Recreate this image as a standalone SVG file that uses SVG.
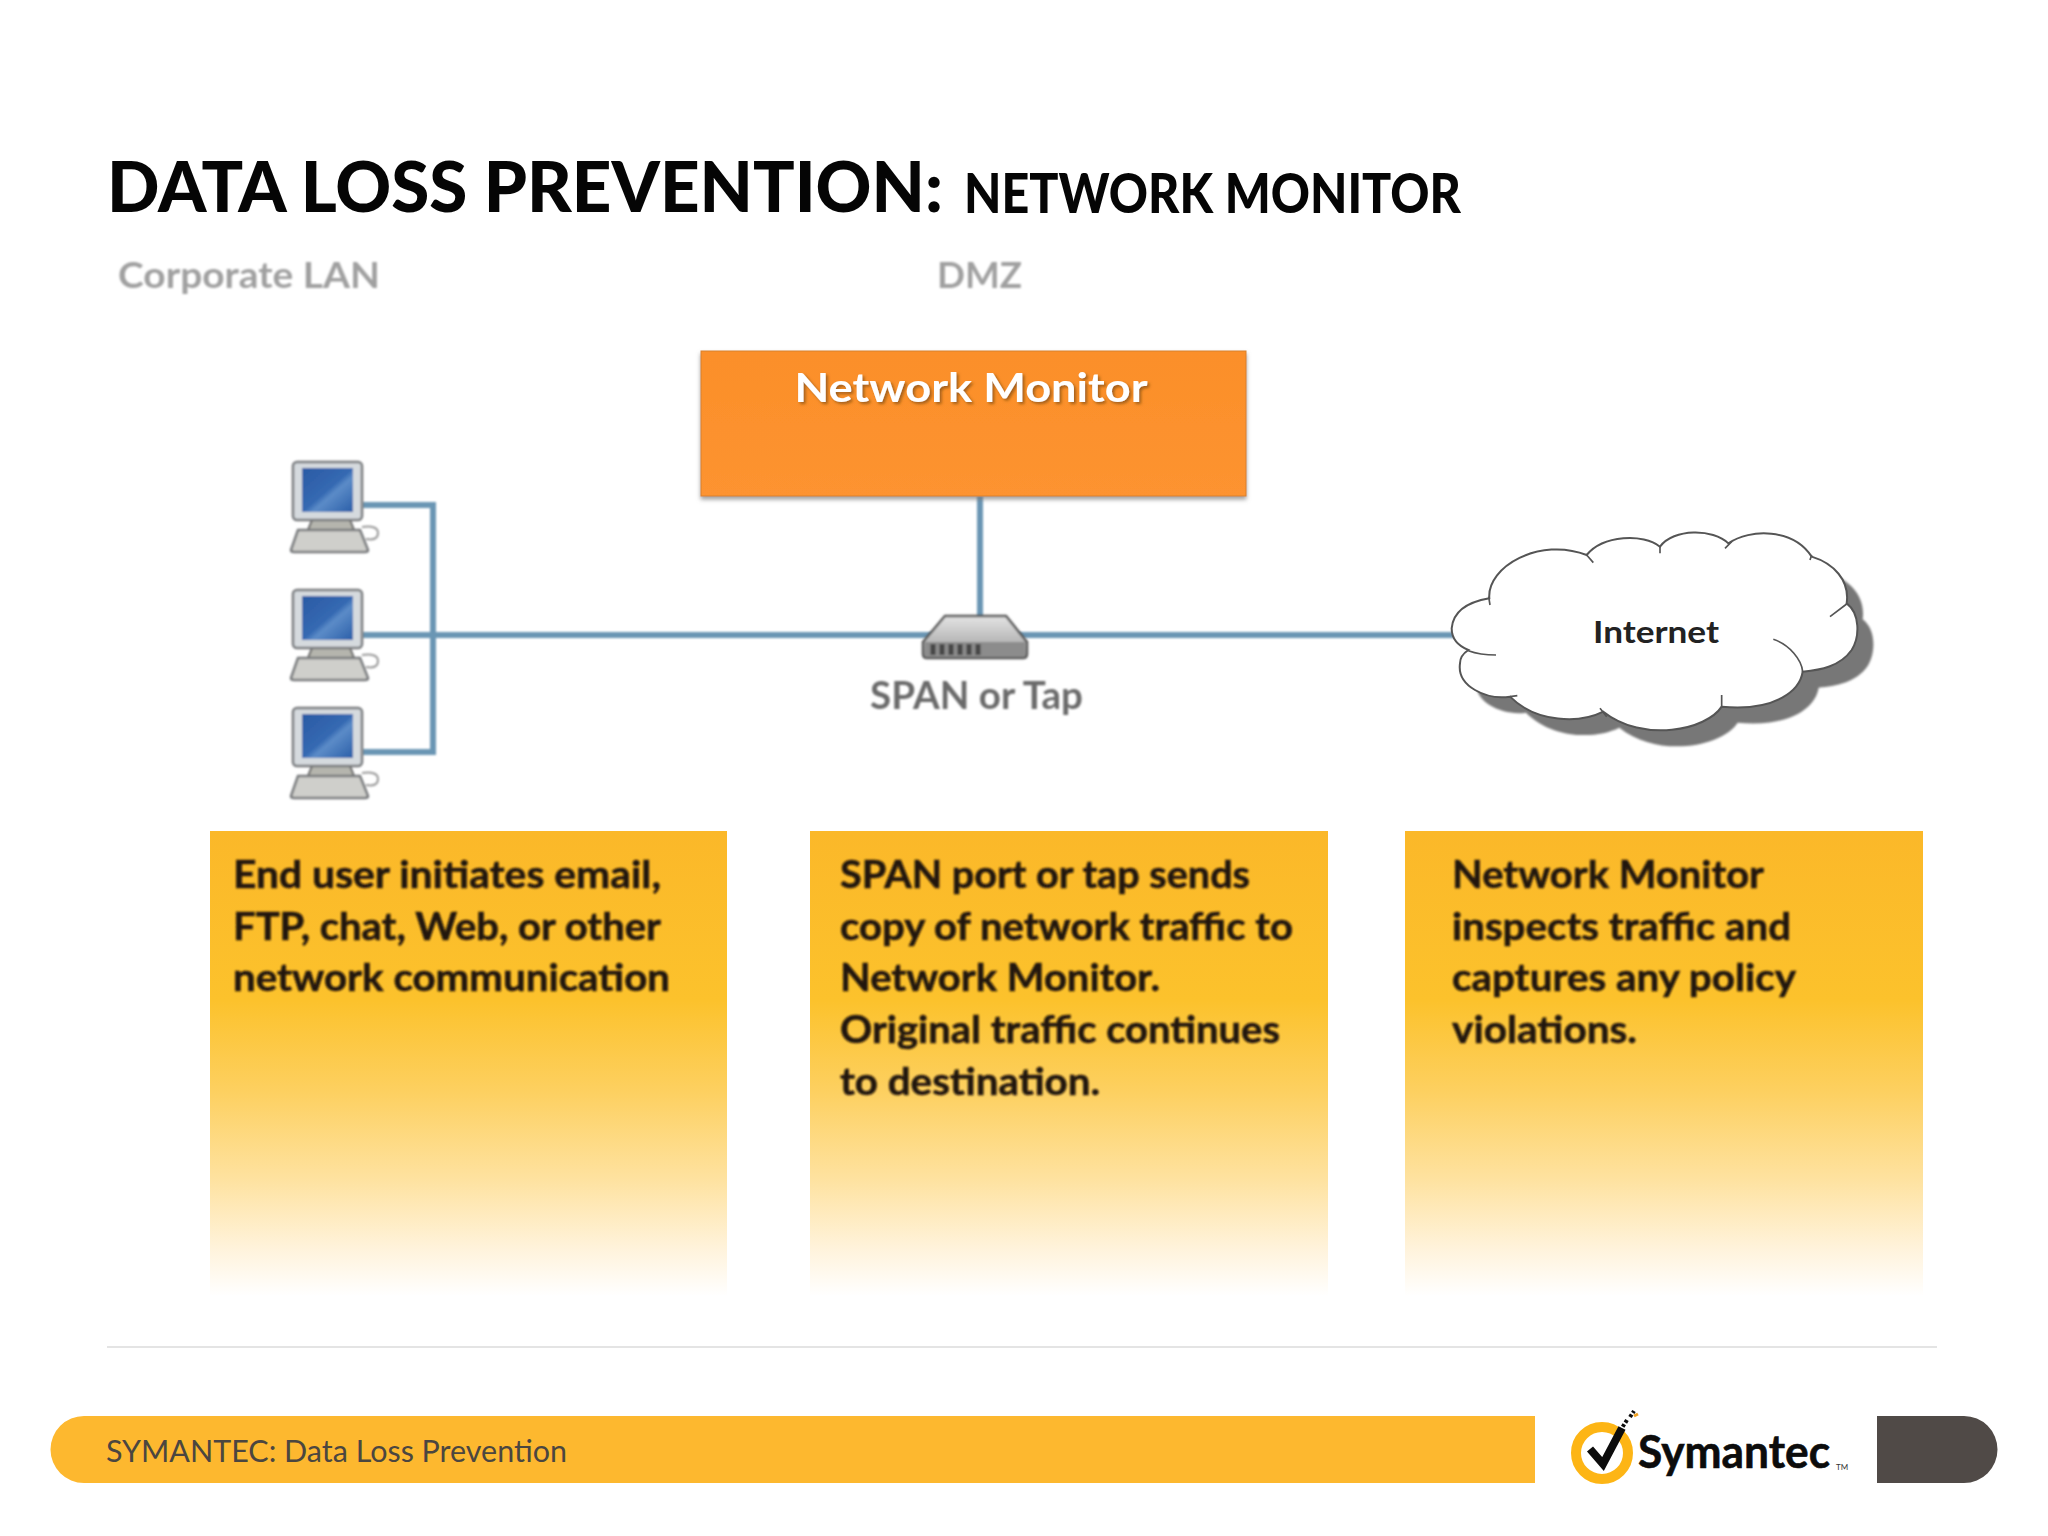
<svg xmlns="http://www.w3.org/2000/svg" width="2048" height="1536" viewBox="0 0 2048 1536">
<style>
text{font-family:"Lato","Open Sans","Liberation Sans",sans-serif}
.title{font-weight:900;fill:#050505}
.zone{font-weight:700;font-size:37px;fill:#a0a0a0}
.body{font-weight:700;font-size:38px;fill:#20140a;stroke:#20140a;stroke-width:.5}
.link{fill:none;stroke:#6b96b4;stroke-width:6}
.inner{fill:none;stroke:#555;stroke-width:5}
</style>
<defs>
<linearGradient id="note" x1="0" y1="0" x2="0" y2="1"><stop offset="0" stop-color="#fbb829"/><stop offset="0.365" stop-color="#fcc22c"/><stop offset="0.56" stop-color="#fdd060"/><stop offset="0.75" stop-color="#fee2a0"/><stop offset="0.9" stop-color="#fff3dc"/><stop offset="1" stop-color="#ffffff"/></linearGradient>
<linearGradient id="orange" x1="0" y1="0" x2="0" y2="1"><stop offset="0" stop-color="#fb8f2a"/><stop offset="1" stop-color="#fd9330"/></linearGradient>
<linearGradient id="screen" x1="0" y1="0" x2="1" y2="1"><stop offset="0" stop-color="#2a5aa4"/><stop offset="0.5" stop-color="#3569b2"/><stop offset="0.6" stop-color="#5c8cc8"/><stop offset="1" stop-color="#2a5ea8"/></linearGradient>
<linearGradient id="hub" x1="0" y1="0" x2="0" y2="1"><stop offset="0" stop-color="#e4e4e4"/><stop offset="1" stop-color="#9b9b9b"/></linearGradient>
<filter id="soft" x="-10%" y="-10%" width="120%" height="120%"><feGaussianBlur stdDeviation="0.8"/></filter>
<filter id="blur" x="-10%" y="-10%" width="120%" height="120%"><feGaussianBlur stdDeviation="3"/></filter>
<filter id="boxshadow" x="-5%" y="-5%" width="110%" height="115%"><feDropShadow dx="0" dy="3" stdDeviation="2" flood-color="#777" flood-opacity="0.7"/></filter>
<filter id="textshadow" x="-5%" y="-20%" width="110%" height="150%"><feDropShadow dx="2" dy="2" stdDeviation="1.5" flood-color="#7a4a10" flood-opacity="0.7"/></filter>
<g id="pc">
<path d="M312 520h38l4 10h-46z" fill="#b5b5ad" stroke="#666" stroke-width="2"/>
<rect x="293" y="462" width="69" height="58" rx="4" fill="#d5dade" stroke="#77797c" stroke-width="2.5"/>
<rect x="302" y="468" width="51" height="44" fill="url(#screen)"/>
<path d="M298 530h62l8 20q0 2-3 2h-71q-3 0-3-2z" fill="#cfcfcb" stroke="#77797c" stroke-width="2.5"/>
<path d="M362 527q16-2 16 6t-12 6" fill="none" stroke="#999" stroke-width="2"/>
</g>
</defs>
<rect width="2048" height="1536" fill="#ffffff"/>
<g id="heading">
<text class="title" x="107" y="212" font-size="70" textLength="836" lengthAdjust="spacingAndGlyphs">DATA LOSS PREVENTION:</text>
<text class="title" x="964" y="213" font-size="55" textLength="497" lengthAdjust="spacingAndGlyphs">NETWORK MONITOR</text>
</g>
<g id="zones" filter="url(#soft)">
<text class="zone" x="118" y="288" textLength="262" lengthAdjust="spacingAndGlyphs">Corporate LAN</text>
<text class="zone" x="937" y="288" textLength="85" lengthAdjust="spacingAndGlyphs">DMZ</text>
</g>
<g id="connectors" filter="url(#soft)">
<path class="link" d="M362 505H433V752H362"/>
<path class="link" d="M362 635H1460"/>
<path class="link" d="M980 496V618"/>
</g>
<g id="network-monitor">
<rect x="701" y="351" width="545" height="145" fill="url(#orange)" stroke="#d8812e" stroke-width="1" filter="url(#boxshadow)"/>
<text x="971" y="402" text-anchor="middle" font-size="41" font-weight="700" fill="#fff" filter="url(#textshadow)" textLength="353" lengthAdjust="spacingAndGlyphs">Network Monitor</text>
</g>
<g id="pc-1" filter="url(#soft)"><use href="#pc"/></g>
<g id="pc-2" filter="url(#soft)"><use href="#pc" y="128"/></g>
<g id="pc-3" filter="url(#soft)"><use href="#pc" y="246"/></g>
<g id="span-tap">
<g filter="url(#soft)">
<path d="M945 616H1006L1027 642V654Q1027 658 1023 658H927Q923 658 923 654V642Z" fill="url(#hub)" stroke="#555" stroke-width="2.5"/>
<rect x="925" y="642" width="100" height="15" fill="#8c8c8c"/>
<path d="M933 644v11M942 644v11M951 644v11M960 644v11M969 644v11M978 644v11" stroke="#444" stroke-width="5"/>
</g>
<text x="870" y="709" font-size="38" font-weight="700" fill="#6a6a6a" textLength="213" lengthAdjust="spacingAndGlyphs" filter="url(#soft)">SPAN or Tap</text>
</g>
<g id="internet">
<g transform="translate(1430 500) scale(.33333)">
<path id="cloud-shadow" transform="translate(48 48)" d="M65 385C70 330 120 305 178 295C170 200 330 110 470 165C520 105 640 100 690 140C730 85 850 85 895 130C960 85 1090 85 1145 170C1210 190 1260 240 1250 310C1290 340 1290 410 1265 450C1230 500 1170 510 1118 515C1110 570 1040 635 875 620C830 690 640 730 520 635C450 670 320 670 240 590C170 600 80 560 90 490C90 470 100 460 115 450C90 440 65 420 65 385Z" fill="#777" filter="url(#blur)"/>
<path d="M65 385C70 330 120 305 178 295C170 200 330 110 470 165C520 105 640 100 690 140C730 85 850 85 895 130C960 85 1090 85 1145 170C1210 190 1260 240 1250 310C1290 340 1290 410 1265 450C1230 500 1170 510 1118 515C1110 570 1040 635 875 620C830 690 640 730 520 635C450 670 320 670 240 590C170 600 80 560 90 490C90 470 100 460 115 450C90 440 65 420 65 385Z" fill="#fff" stroke="#555" stroke-width="6"/>
<path class="inner" d="M490 188L470 165M180 315L176 290M115 452Q150 465 198 465M1200 350L1250 312M1030 418C1080 435 1115 480 1118 515M875 585V620M510 625L530 650M240 590L262 587M690 160V140M885 145L905 125M1140 180L1145 165"/>
</g>
<text x="1593" y="643" font-size="31" font-weight="700" fill="#222" textLength="126" lengthAdjust="spacingAndGlyphs">Internet</text>
</g>
<g id="note-1">
<rect x="210" y="831" width="517" height="465" fill="url(#note)"/>
<g filter="url(#soft)">
<text class="body" x="233" y="888" textLength="428" lengthAdjust="spacingAndGlyphs">End user initiates email,</text>
<text class="body" x="233" y="940" textLength="428" lengthAdjust="spacingAndGlyphs">FTP, chat, Web, or other</text>
<text class="body" x="233" y="991" textLength="437" lengthAdjust="spacingAndGlyphs">network communication</text>
</g>
</g>
<g id="note-2">
<rect x="810" y="831" width="518" height="465" fill="url(#note)"/>
<g filter="url(#soft)">
<text class="body" x="840" y="888" textLength="410" lengthAdjust="spacingAndGlyphs">SPAN port or tap sends</text>
<text class="body" x="840" y="940" textLength="453" lengthAdjust="spacingAndGlyphs">copy of network traffic to</text>
<text class="body" x="840" y="991" textLength="320" lengthAdjust="spacingAndGlyphs">Network Monitor.</text>
<text class="body" x="840" y="1043" textLength="440" lengthAdjust="spacingAndGlyphs">Original traffic continues</text>
<text class="body" x="840" y="1095" textLength="260" lengthAdjust="spacingAndGlyphs">to destination.</text>
</g>
</g>
<g id="note-3">
<rect x="1405" y="831" width="518" height="465" fill="url(#note)"/>
<g filter="url(#soft)">
<text class="body" x="1452" y="888" textLength="312" lengthAdjust="spacingAndGlyphs">Network Monitor</text>
<text class="body" x="1452" y="940" textLength="339" lengthAdjust="spacingAndGlyphs">inspects traffic and</text>
<text class="body" x="1452" y="991" textLength="344" lengthAdjust="spacingAndGlyphs">captures any policy</text>
<text class="body" x="1452" y="1043" textLength="185" lengthAdjust="spacingAndGlyphs">violations.</text>
</g>
</g>
<line id="separator" x1="107" y1="1347" x2="1937" y2="1347" stroke="#e4e4e4" stroke-width="2"/>
<g id="footer">
<path d="M84 1416H1535V1483H84A33.5 33.5 0 0 1 84 1416Z" fill="#fdb82f"/>
<text x="106" y="1462" font-size="31" fill="#4b4640" textLength="461" lengthAdjust="spacingAndGlyphs">SYMANTEC: Data Loss Prevention</text>
</g>
<g id="logo">
<circle cx="1602" cy="1453" r="26" fill="#fff" stroke="#fdb515" stroke-width="10"/>
<path d="M1590 1449L1603 1464L1622 1428" fill="none" stroke="#0c0c0c" stroke-width="8"/>
<path d="M1620 1431L1627 1420M1630 1417L1634 1411" fill="none" stroke="#0c0c0c" stroke-width="4" stroke-dasharray="3 2"/>
<path d="M1634 1416L1638 1414" stroke="#f0a020" stroke-width="3"/>
<text x="1638" y="1468" font-size="45" font-weight="700" fill="#0c0c0c" stroke="#0c0c0c" stroke-width=".6" textLength="192" lengthAdjust="spacingAndGlyphs">Symantec</text>
<text x="1836" y="1470" font-size="8" fill="#333">TM</text>
</g>
<path id="tab" d="M1877 1416H1964A33.5 33.5 0 0 1 1964 1483H1877Z" fill="#504a47"/>
</svg>
